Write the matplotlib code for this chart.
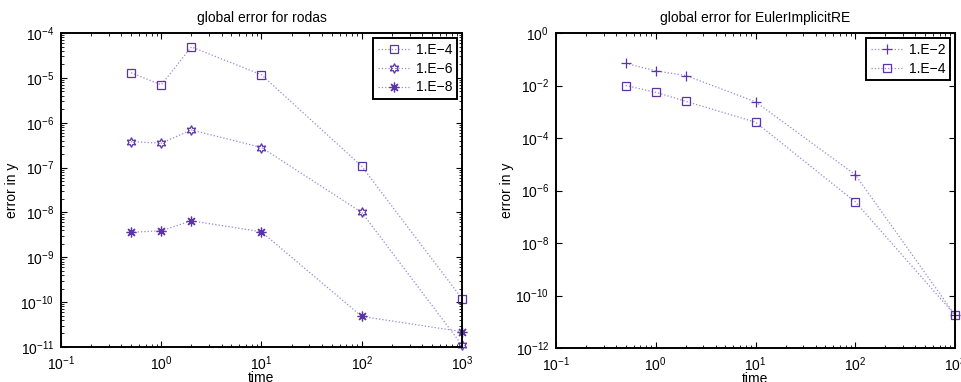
import matplotlib.pyplot as plt
import numpy as np

plt.rcParams['font.family'] = ['Liberation Sans', 'DejaVu Sans']

t = [0.5, 1, 2, 10, 100, 1000]

# rodas, one series per tolerance
rodas_labels = ['1.E\u22124', '1.E\u22126', '1.E\u22128']
rodas_1e4 = [1.3e-5, 7.0e-6, 4.9e-5, 1.17e-5, 1.07e-7, 1.2e-10]
rodas_1e6 = [3.8e-7, 3.5e-7, 6.9e-7, 2.8e-7, 1.0e-8, 1.1e-11]
rodas_1e8 = [3.6e-9, 3.9e-9, 6.5e-9, 3.7e-9, 4.8e-11, 2.2e-11]

# EulerImplicitRE
euler_labels = ['1.E\u22122', '1.E\u22124']
euler_1e2 = [7.0e-2, 3.6e-2, 2.4e-2, 2.4e-3, 4.0e-6, 1.8e-11]
euler_1e4 = [1.0e-2, 5.5e-3, 2.5e-3, 4.0e-4, 3.7e-7, 1.8e-11]

mcol = '#5a34a8'
lcol = '#9a86d6'


def style_axes(ax, ylim, title):
    ax.set_xscale('log')
    ax.set_yscale('log')
    ax.set_xlim(0.1, 1000)
    ax.set_ylim(*ylim)
    ax.set_title(title, fontsize=10, pad=8)
    ax.set_xlabel('time', fontsize=10, labelpad=-1)
    ax.set_ylabel('error in y', fontsize=10, labelpad=1)
    ax.tick_params(which='both', direction='in', top=True, right=True, labelsize=10)
    ax.tick_params(which='major', length=4, width=0.8, pad=5)
    ax.tick_params(which='minor', length=2, width=0.6)
    for sp in ax.spines.values():
        sp.set_linewidth(1.4)
    leg = ax.legend(loc='upper right', fontsize=10, fancybox=False, framealpha=1,
                    edgecolor='black', borderpad=0.35, labelspacing=0.35,
                    handlelength=2.3, handletextpad=0.4, borderaxespad=0.35)
    leg.get_frame().set_linewidth(1.4)


def plot_series(ax, y, marker, label, ms=5.5):
    ax.plot(t, y, linestyle=':', color=lcol, linewidth=0.9, marker=marker,
            markersize=ms, markeredgecolor=mcol, markerfacecolor='none',
            markeredgewidth=0.9, label=label, clip_on=False)


fig = plt.figure(figsize=(9.62, 3.82), dpi=100)
ax1 = fig.add_axes([61/962, 1-347/382, 401/962, 314/382])
ax2 = fig.add_axes([556/962, 1-348/382, 399/962, 315/382])

plot_series(ax1, rodas_1e4, 's', rodas_labels[0])
plot_series(ax1, rodas_1e6, (6, 1, 0), rodas_labels[1], ms=7)
plot_series(ax1, rodas_1e8, (8, 2, 0), rodas_labels[2], ms=7)
style_axes(ax1, (1e-11, 1e-4), 'global error for rodas')

plot_series(ax2, euler_1e2, '+', euler_labels[0], ms=7)
plot_series(ax2, euler_1e4, 's', euler_labels[1])
style_axes(ax2, (1e-12, 1), 'global error for EulerImplicitRE')
ax2.set_yticks([10.0**k for k in range(-12, 1, 2)])
ax2.yaxis.set_minor_locator(plt.NullLocator())

fig.savefig('out.png', dpi=100)
